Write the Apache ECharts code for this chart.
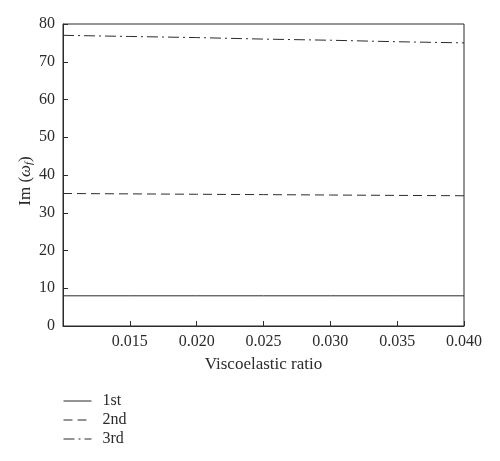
<!DOCTYPE html>
<html>
<head>
<meta charset="utf-8">
<script src="https://cdn.jsdelivr.net/npm/echarts@6/dist/echarts.min.js"></script>
<style>
  html, body { margin: 0; padding: 0; background: #fff; }
  #chart { width: 500px; height: 461px; }
</style>
</head>
<body>
<div id="chart"></div>
<script>
// viscoelastic ratio samples
const ratio = [0.010, 0.015, 0.020, 0.025, 0.030, 0.035, 0.040]
// Im(omega_f) per mode
const first = [8.0, 8.0, 8.0, 8.0, 8.0, 8.0, 8.0]
const second = [35.1, 35.0, 34.9, 34.8, 34.7, 34.6, 34.5]
const third = [77.0, 76.7, 76.4, 76.0, 75.7, 75.3, 75.0]
const names = ['1st', '2nd', '3rd']

const font = 'Liberation Serif'
const ink = '#2b2b2b'
const dashes = ['solid', [9, 5], [11, 4, 2, 4]]

function pairs(ys) {
  return ratio.map((x, i) => [x, ys[i]])
}

let chart = echarts.init(document.getElementById('chart'))

let option = {
  animation: false,
  textStyle: { fontFamily: font },
  grid: {
    show: true,
    left: 63,
    right: 36,
    top: 24,
    bottom: 135,
    borderColor: ink,
    borderWidth: 1
  },
  legend: {
    orient: 'vertical',
    left: 63,
    top: 393,
    padding: 0,
    itemWidth: 28,
    itemHeight: 14,
    itemGap: 3,
    itemStyle: { opacity: 0 },
    data: names.map((n, i) => ({
      name: n,
      itemStyle: { opacity: 0 },
      lineStyle: { type: dashes[i], width: 1, color: ink }
    })),
    textStyle: { fontFamily: font, fontSize: 16, color: ink, padding: [0, 0, 0, 6] }
  },
  xAxis: {
    type: 'value',
    name: 'Viscoelastic ratio',
    nameLocation: 'middle',
    nameGap: 30,
    nameTextStyle: { fontFamily: font, fontSize: 17, color: ink },
    min: 0.010,
    max: 0.040,
    interval: 0.005,
    axisLine: { lineStyle: { color: ink } },
    axisTick: { inside: true, length: 5, lineStyle: { color: ink } },
    splitLine: { show: false },
    axisLabel: {
      fontFamily: font,
      fontSize: 16,
      color: ink,
      margin: 8,
      showMinLabel: false,
      formatter: v => v.toFixed(3)
    }
  },
  yAxis: {
    type: 'value',
    name: '{n|Im (}{w|ω}{s|f}{n|)}',
    nameLocation: 'middle',
    nameRotate: 90,
    nameGap: 28,
    nameMoveOverlap: false,
    nameTextStyle: {
      padding: [0, 12, 0, 0],
      rich: {
        n: { fontFamily: font, fontSize: 17, color: ink },
        w: { fontFamily: font, fontSize: 17, fontStyle: 'italic', color: ink },
        s: { fontFamily: font, fontSize: 11, fontStyle: 'italic', color: ink, padding: [7, 0, 0, 0] }
      }
    },
    min: 0,
    max: 80,
    interval: 10,
    axisLine: { show: true, lineStyle: { color: ink } },
    axisTick: { show: true, inside: true, length: 5, lineStyle: { color: ink } },
    splitLine: { show: false },
    axisLabel: { fontFamily: font, fontSize: 16, color: ink, margin: 8 }
  },
  series: [
    {
      name: names[0],
      type: 'line',
      data: pairs(first),
      symbol: 'none',
      lineStyle: { width: 1, color: ink, type: dashes[0] },
      itemStyle: { color: ink }
    },
    {
      name: names[1],
      type: 'line',
      data: pairs(second),
      symbol: 'none',
      lineStyle: { width: 1, color: ink, type: dashes[1] },
      itemStyle: { color: ink }
    },
    {
      name: names[2],
      type: 'line',
      data: pairs(third),
      symbol: 'none',
      lineStyle: { width: 1, color: ink, type: dashes[2] },
      itemStyle: { color: ink }
    }
  ]
}

chart.setOption(option)
</script>
</body>
</html>
